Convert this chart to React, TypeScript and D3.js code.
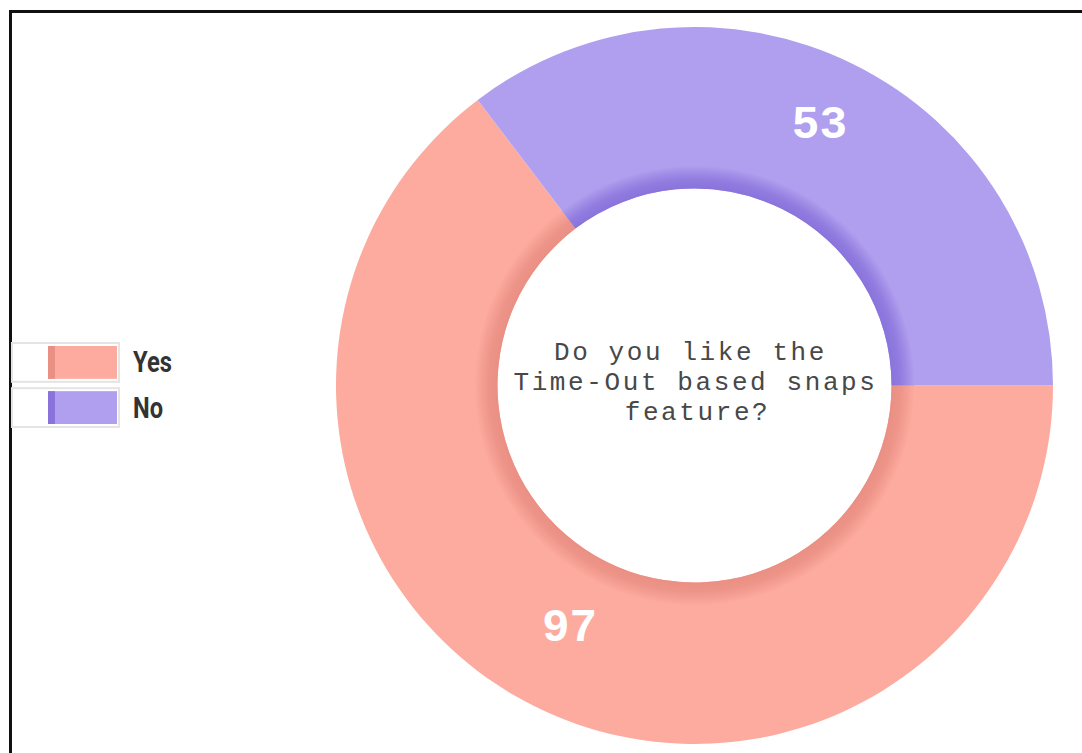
import React from "react";
import * as d3 from "d3";

const categories = ["Yes", "No"];
const values = [97, 53];
const colors = ["#fdab9f", "#b09fee"];
const shadeColors = ["#ea8f84", "#8a74dc"];
const titleLines = ["Do you like the", "Time-Out based snaps", "feature?"];

const W = 1082;
const H = 753;
const cx = 694.5;
const cy = 385.5;
const outerR = 358.5;
const innerR = 197;
const shadowR = 220;
const labelR = 281;

export default function App() {
  const data = categories.map((c, i) => ({ name: c, value: values[i], i }));
  const pie = d3
    .pie<any>()
    .sort(null)
    .value((d: any) => d.value)
    .startAngle(Math.PI / 2)
    .endAngle(Math.PI / 2 + 2 * Math.PI);
  const arcs = pie(data);
  const arcMain = d3.arc<any>().innerRadius(innerR).outerRadius(outerR);
  const arcShadow = d3.arc<any>().innerRadius(innerR).outerRadius(shadowR);
  const arcLabel = d3.arc<any>().innerRadius(labelR).outerRadius(labelR);

  const legendY = d3.scaleBand<string>().domain(categories).range([343, 427]).paddingInner(0.14);

  return (
    <svg
      width={W}
      height={H}
      style={{ position: "absolute", left: 0, top: 0, background: "#fff" }}
    >
      <defs>
        {arcs.map((a, i) => (
          <radialGradient
            key={i}
            id={`shade${i}`}
            gradientUnits="userSpaceOnUse"
            cx={0}
            cy={0}
            r={shadowR}
          >
            <stop offset={innerR / shadowR} stopColor={shadeColors[i]} />
            <stop offset={(innerR + 8) / shadowR} stopColor={shadeColors[i]} stopOpacity={0.85} />
            <stop offset={1} stopColor={colors[i]} />
          </radialGradient>
        ))}
      </defs>
      <rect x={10.5} y={11.5} width={1200} height={900} fill="none" stroke="#111" strokeWidth={3} />
      <g transform={`translate(${cx},${cy})`}>
        {arcs.map((a, i) => (
          <path key={"m" + i} d={arcMain(a) as string} fill={colors[i]} />
        ))}
        {arcs.map((a, i) => (
          <path key={"s" + i} d={arcShadow(a) as string} fill={`url(#shade${i})`} />
        ))}
        {arcs.map((a, i) => {
          const [x, y] = arcLabel.centroid(a);
          return (
            <text
              key={"l" + i}
              x={x}
              y={y - 8}
              textAnchor="middle"
              dominantBaseline="central"
              fill="#fff"
              fontFamily="'Liberation Mono', 'DejaVu Sans Mono', monospace"
              fontWeight="bold"
              fontSize={46}
            >
              {a.data.value}
            </text>
          );
        })}
        {titleLines.map((t, i) => (
          <text
            key={"t" + i}
            x={i === 0 ? -4 : i === 2 ? 3 : 1}
            y={-26 + i * 30}
            textAnchor="middle"
            fill="#484848"
            fontFamily="'Liberation Mono', 'Courier New', monospace"
            fontSize={26}
            letterSpacing={2.6}
          >
            {t}
          </text>
        ))}
      </g>
      <g>
        {categories.map((c, i) => {
          const y = legendY(c) as number;
          const h = legendY.bandwidth();
          return (
            <g key={c}>
              <rect x={12} y={y} width={107} height={h} fill="#fff" stroke="#e4e4e4" strokeWidth={2} />
              <rect x={48} y={y + 3} width={69} height={h - 6} fill={colors[i]} />
              <rect x={48} y={y + 3} width={7} height={h - 6} fill={shadeColors[i]} />
              <text
                x={133}
                y={y + h / 2}
                dominantBaseline="central"
                fill="#333"
                fontFamily="'Liberation Sans Narrow', 'Roboto', sans-serif"
                fontWeight="bold"
                fontSize={29}
                textLength={c === "Yes" ? 39 : 30}
                lengthAdjust="spacingAndGlyphs"
              >
                {c}
              </text>
            </g>
          );
        })}
      </g>
    </svg>
  );
}
